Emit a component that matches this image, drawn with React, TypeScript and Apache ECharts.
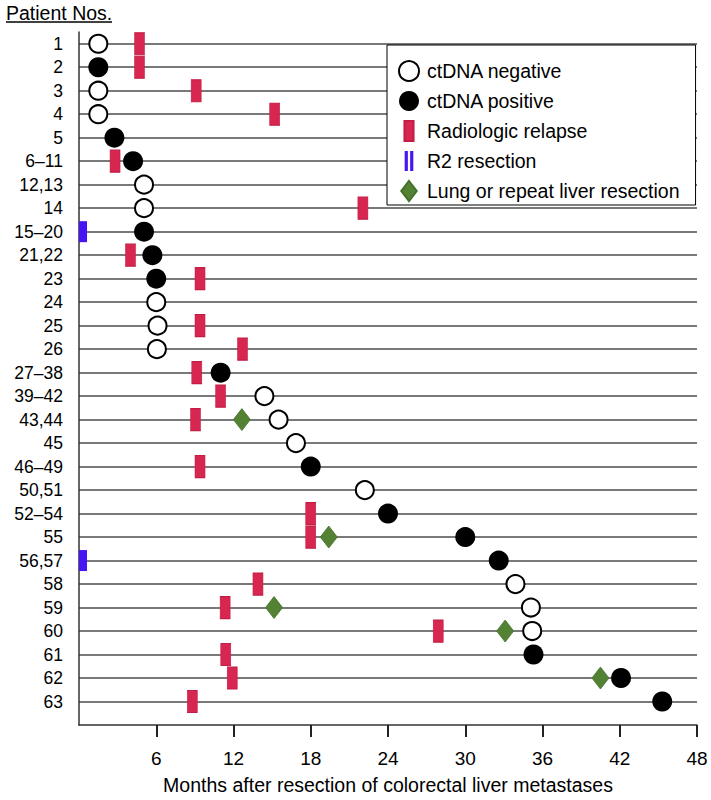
import React, { useEffect, useRef } from "react";
import * as echarts from "echarts";

const FONT = 'Arial, "Liberation Sans", sans-serif';

const patientRows: string[] = [
  "1", "2", "3", "4", "5", "6–11", "12,13", "14", "15–20", "21,22", "23", "24", "25", "26",
  "27–38", "39–42", "43,44", "45", "46–49", "50,51", "52–54", "55", "56,57", "58", "59", "60", "61", "62", "63",
];

// [patient row, months]
const ctdnaNegative: [string, number][] = [
  ["1", 1.5], ["3", 1.5], ["4", 1.5], ["12,13", 5.05], ["14", 5.05], ["24", 6.0], ["25", 6.1], ["26", 6.05],
  ["39–42", 14.4], ["43,44", 15.5], ["45", 16.85], ["50,51", 22.2], ["58", 33.9], ["59", 35.1], ["60", 35.2],
];
const ctdnaPositive: [string, number][] = [
  ["2", 1.5], ["5", 2.75], ["6–11", 4.2], ["15–20", 5.05], ["21,22", 5.7], ["23", 6.0], ["27–38", 11.0],
  ["46–49", 18.0], ["52–54", 24.0], ["55", 30.0], ["56,57", 32.6], ["61", 35.3], ["62", 42.1], ["63", 45.3],
];
const radiologicRelapse: [string, number][] = [
  ["1", 4.7], ["2", 4.7], ["3", 9.1], ["4", 15.2], ["6–11", 2.8], ["14", 22.05], ["21,22", 4.0], ["23", 9.4],
  ["25", 9.4], ["26", 12.7], ["27–38", 9.15], ["39–42", 11.0], ["43,44", 9.05], ["46–49", 9.4], ["52–54", 18.0],
  ["55", 18.0], ["58", 13.9], ["59", 11.35], ["60", 27.9], ["61", 11.4], ["62", 11.9], ["63", 8.8],
];
const r2Resection: [string, number][] = [["15–20", 0], ["56,57", 0]];
const lungOrLiverResection: [string, number][] = [
  ["43,44", 12.65], ["55", 19.4], ["59", 15.15], ["60", 33.1], ["62", 40.5],
];

const monthTicks = [6, 12, 18, 24, 30, 36, 42, 48];

const toPoints = (arr: [string, number][]) =>
  arr.map(([row, m]) => [m, patientRows.indexOf(row)]);

export default function App() {
  const ref = useRef<HTMLDivElement>(null);

  useEffect(() => {
    if (!ref.current) return;
    const chart = echarts.init(ref.current, undefined, { renderer: "svg" });
    const rowIdx = patientRows.map((_, i) => i);
    chart.setOption({
      animation: false,
      backgroundColor: "#fff",
      textStyle: { fontFamily: FONT },
      grid: { left: 79, right: 14, top: 32, bottom: 70 },
      xAxis: {
        type: "value",
        position: "bottom",
        min: 0,
        max: 48,
        interval: 6,
        axisLine: { show: true, onZero: false, lineStyle: { color: "#333", width: 1.5 } },
        axisTick: { show: true, length: 12, customValues: monthTicks, lineStyle: { color: "#222", width: 2 } },
        axisLabel: { customValues: monthTicks, fontSize: 19, color: "#000", margin: 24, fontFamily: FONT },
        splitLine: { show: false },
        name: "Months after resection of colorectal liver metastases",
        nameLocation: "middle",
        nameGap: 50,
        nameTextStyle: { fontSize: 19.5, color: "#000", fontFamily: FONT },
      },
      yAxis: {
        type: "value",
        inverse: true,
        min: -0.5,
        max: 29,
        axisLine: { show: true, onZero: false, lineStyle: { color: "#333", width: 1.5 } },
        axisTick: { show: false, customValues: rowIdx },
        axisLabel: {
          customValues: rowIdx,
          fontSize: 17.5,
          color: "#000",
          margin: 16,
          fontFamily: FONT,
          formatter: (v: number) => patientRows[Math.round(v)] ?? "",
        },
        splitLine: { show: true, lineStyle: { color: "#4d4d4d", width: 1.5 } },
      },
      legend: {
        orient: "vertical",
        left: 387,
        top: 45,
        padding: [15, 16, 3, 11],
        itemWidth: 26,
        itemHeight: 20,
        itemGap: 9,
        backgroundColor: "#fff",
        borderColor: "#000",
        borderWidth: 1,
        borderRadius: 0,
        textStyle: { fontSize: 19.5, color: "#000", fontFamily: FONT },
        data: [
          { name: "ctDNA negative", icon: "circle" },
          { name: "ctDNA positive", icon: "circle" },
          { name: "Radiologic relapse", icon: "path://M0,0h10v22h-10z" },
          { name: "R2 resection", icon: "path://M0,0h3.5v22h-3.5zM6,0h3.5v22h-3.5z" },
          { name: "Lung or repeat liver resection", icon: "path://M8.5,0L17,11L8.5,22L0,11Z" },
        ],
      },
      graphic: [
        {
          type: "text",
          left: 6,
          top: 3,
          style: { text: "Patient Nos.", fontSize: 19.5, fill: "#000", fontFamily: FONT },
        },
        {
          type: "line",
          shape: { x1: 6, y1: 22, x2: 112, y2: 22 },
          style: { stroke: "#000", lineWidth: 1.5 },
        },
      ],
      series: [
        {
          name: "ctDNA negative",
          type: "scatter",
          z: 4,
          symbol: "circle",
          symbolSize: 18,
          itemStyle: { color: "#fff", borderColor: "#000", borderWidth: 2, opacity: 1 },
          data: toPoints(ctdnaNegative),
        },
        {
          name: "ctDNA positive",
          type: "scatter",
          z: 4,
          symbol: "circle",
          symbolSize: 20,
          itemStyle: { color: "#000", opacity: 1 },
          data: toPoints(ctdnaPositive),
        },
        {
          name: "Radiologic relapse",
          type: "scatter",
          z: 3,
          symbol: "rect",
          symbolSize: [10, 22],
          itemStyle: { color: "#d7264f", borderColor: "#c21e45", borderWidth: 0.8, opacity: 1 },
          data: toPoints(radiologicRelapse),
        },
        {
          name: "R2 resection",
          type: "scatter",
          z: 3,
          symbol: "rect",
          symbolSize: [8, 21],
          symbolOffset: [4, 0],
          itemStyle: { color: "#4615f2", opacity: 1 },
          data: toPoints(r2Resection),
        },
        {
          name: "Lung or repeat liver resection",
          type: "scatter",
          z: 3,
          symbol: "diamond",
          symbolSize: [17, 22],
          itemStyle: { color: "#548235", borderColor: "#44702a", borderWidth: 0.8, opacity: 1 },
          data: toPoints(lungOrLiverResection),
        },
      ],
    });
    return () => chart.dispose();
  }, []);

  return (
    <div
      ref={ref}
      style={{ position: "fixed", left: 0, top: 0, width: 711, height: 800, background: "#fff" }}
    />
  );
}
